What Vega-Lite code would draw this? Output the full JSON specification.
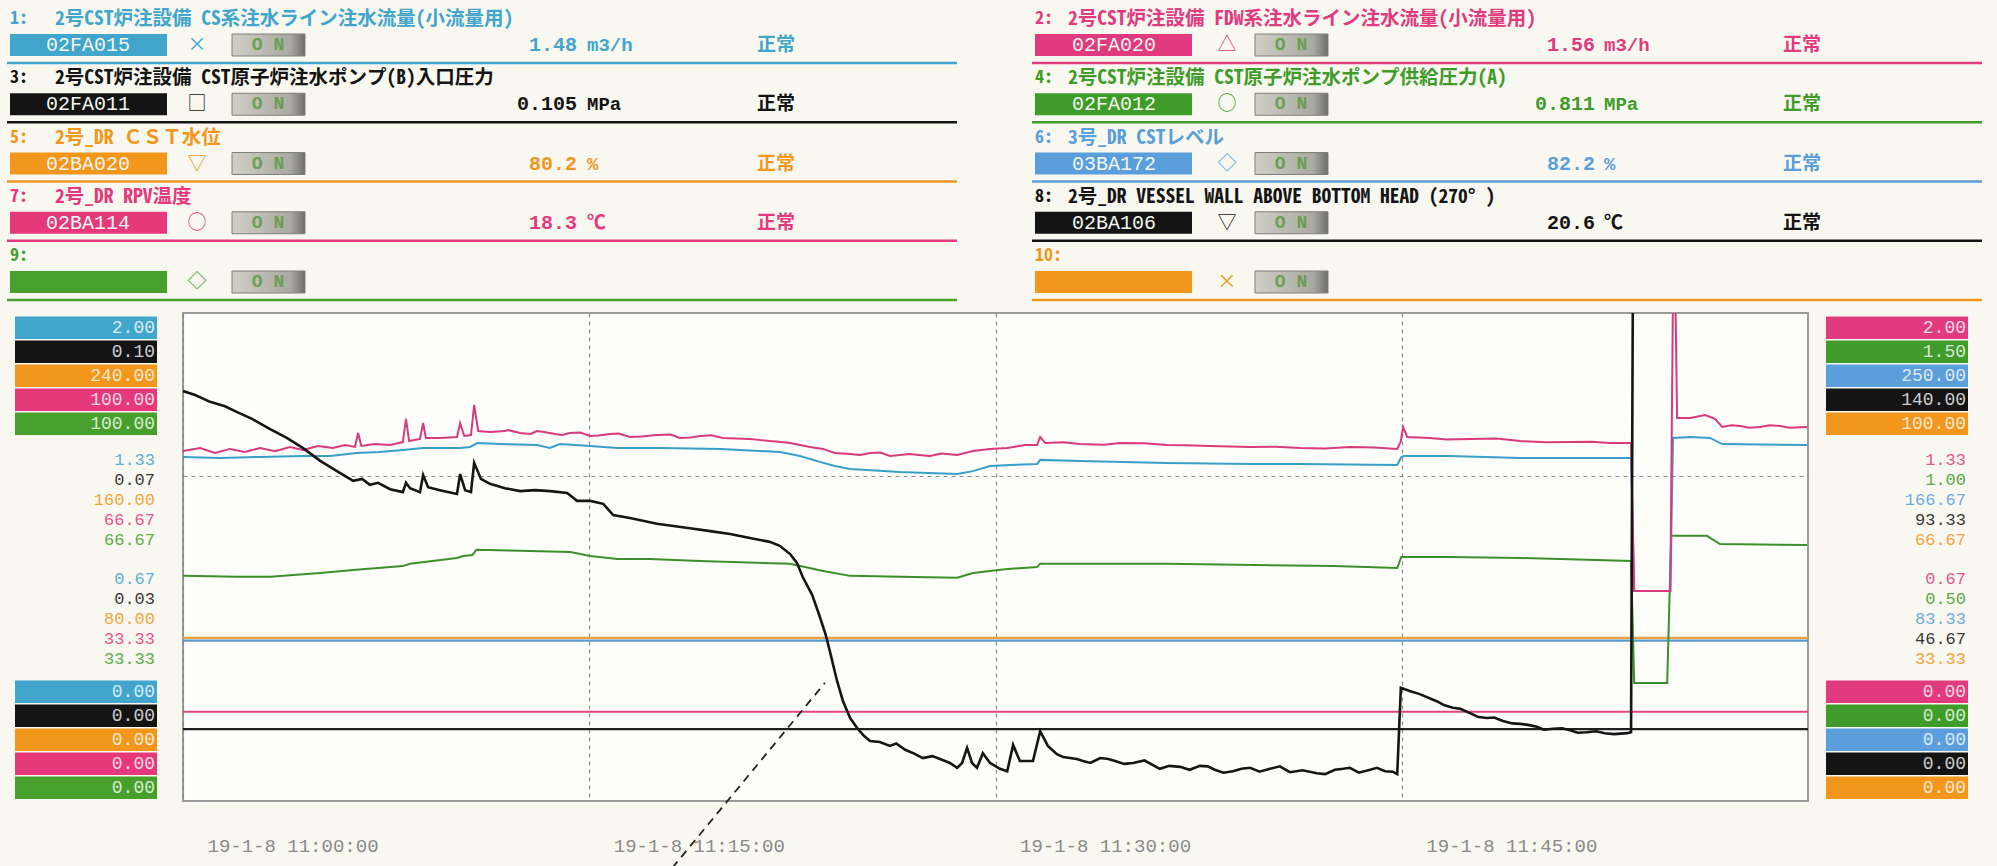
{
"$schema": "https://vega.github.io/schema/vega-lite/v6.json",
"width": 1625,
"height": 488,
"autosize": {"type": "none"},
"padding": {"left": 183, "top": 313, "right": 189, "bottom": 65},
"background": "#f8f8f0",
"config": {
  "view": {"stroke": "#9a9a9a", "strokeWidth": 2, "fill": "#fdfdfa"},
  "text": {"font": "Liberation Mono, DejaVu Sans Mono, Noto Sans CJK JP, monospace"}
},
"datasets": {
  "trend": [
    {"no":3,"t":"2019-01-08T11:00:00","v":0.0840},{"no":3,"t":"2019-01-08T11:00:27","v":0.0832},{"no":3,"t":"2019-01-08T11:01:00","v":0.0818},{"no":3,"t":"2019-01-08T11:01:33","v":0.0809},{"no":3,"t":"2019-01-08T11:02:00","v":0.0797},{"no":3,"t":"2019-01-08T11:02:33","v":0.0783},{"no":3,"t":"2019-01-08T11:03:13","v":0.0762},{"no":3,"t":"2019-01-08T11:03:50","v":0.0744},{"no":3,"t":"2019-01-08T11:04:26","v":0.0723},{"no":3,"t":"2019-01-08T11:05:04","v":0.0697},{"no":3,"t":"2019-01-08T11:05:41","v":0.0676},{"no":3,"t":"2019-01-08T11:06:17","v":0.0656},{"no":3,"t":"2019-01-08T11:06:37","v":0.0660},{"no":3,"t":"2019-01-08T11:06:54","v":0.0648},{"no":3,"t":"2019-01-08T11:07:12","v":0.0652},{"no":3,"t":"2019-01-08T11:07:39","v":0.0639},{"no":3,"t":"2019-01-08T11:08:07","v":0.0633},{"no":3,"t":"2019-01-08T11:08:14","v":0.0652},{"no":3,"t":"2019-01-08T11:08:23","v":0.0641},{"no":3,"t":"2019-01-08T11:08:45","v":0.0633},{"no":3,"t":"2019-01-08T11:08:52","v":0.0668},{"no":3,"t":"2019-01-08T11:09:03","v":0.0643},{"no":3,"t":"2019-01-08T11:09:29","v":0.0637},{"no":3,"t":"2019-01-08T11:10:07","v":0.0629},{"no":3,"t":"2019-01-08T11:10:14","v":0.0670},{"no":3,"t":"2019-01-08T11:10:25","v":0.0637},{"no":3,"t":"2019-01-08T11:10:38","v":0.0633},{"no":3,"t":"2019-01-08T11:10:45","v":0.0693},{"no":3,"t":"2019-01-08T11:11:00","v":0.0660},{"no":3,"t":"2019-01-08T11:11:20","v":0.0650},{"no":3,"t":"2019-01-08T11:11:53","v":0.0641},{"no":3,"t":"2019-01-08T11:12:27","v":0.0635},{"no":3,"t":"2019-01-08T11:13:00","v":0.0637},{"no":3,"t":"2019-01-08T11:13:33","v":0.0635},{"no":3,"t":"2019-01-08T11:14:11","v":0.0631},{"no":3,"t":"2019-01-08T11:14:33","v":0.0615},{"no":3,"t":"2019-01-08T11:15:02","v":0.0615},{"no":3,"t":"2019-01-08T11:15:31","v":0.0609},{"no":3,"t":"2019-01-08T11:15:53","v":0.0586},{"no":3,"t":"2019-01-08T11:16:30","v":0.0580},{"no":3,"t":"2019-01-08T11:17:30","v":0.0568},{"no":3,"t":"2019-01-08T11:18:43","v":0.0559},{"no":3,"t":"2019-01-08T11:19:28","v":0.0553},{"no":3,"t":"2019-01-08T11:20:12","v":0.0547},{"no":3,"t":"2019-01-08T11:20:56","v":0.0539},{"no":3,"t":"2019-01-08T11:21:40","v":0.0531},{"no":3,"t":"2019-01-08T11:22:02","v":0.0523},{"no":3,"t":"2019-01-08T11:22:25","v":0.0506},{"no":3,"t":"2019-01-08T11:22:40","v":0.0488},{"no":3,"t":"2019-01-08T11:22:53","v":0.0459},{"no":3,"t":"2019-01-08T11:23:14","v":0.0422},{"no":3,"t":"2019-01-08T11:23:31","v":0.0377},{"no":3,"t":"2019-01-08T11:23:44","v":0.0340},{"no":3,"t":"2019-01-08T11:23:53","v":0.0307},{"no":3,"t":"2019-01-08T11:24:09","v":0.0246},{"no":3,"t":"2019-01-08T11:24:22","v":0.0205},{"no":3,"t":"2019-01-08T11:24:38","v":0.0170},{"no":3,"t":"2019-01-08T11:24:53","v":0.0150},{"no":3,"t":"2019-01-08T11:25:09","v":0.0133},{"no":3,"t":"2019-01-08T11:25:22","v":0.0123},{"no":3,"t":"2019-01-08T11:25:44","v":0.0121},{"no":3,"t":"2019-01-08T11:26:06","v":0.0113},{"no":3,"t":"2019-01-08T11:26:20","v":0.0118},{"no":3,"t":"2019-01-08T11:26:40","v":0.0105},{"no":3,"t":"2019-01-08T11:27:00","v":0.0097},{"no":3,"t":"2019-01-08T11:27:19","v":0.0088},{"no":3,"t":"2019-01-08T11:27:40","v":0.0092},{"no":3,"t":"2019-01-08T11:27:57","v":0.0086},{"no":3,"t":"2019-01-08T11:28:19","v":0.0078},{"no":3,"t":"2019-01-08T11:28:35","v":0.0068},{"no":3,"t":"2019-01-08T11:28:46","v":0.0078},{"no":3,"t":"2019-01-08T11:28:57","v":0.0109},{"no":3,"t":"2019-01-08T11:29:08","v":0.0078},{"no":3,"t":"2019-01-08T11:29:19","v":0.0068},{"no":3,"t":"2019-01-08T11:29:32","v":0.0098},{"no":3,"t":"2019-01-08T11:29:48","v":0.0078},{"no":3,"t":"2019-01-08T11:30:10","v":0.0066},{"no":3,"t":"2019-01-08T11:30:26","v":0.0061},{"no":3,"t":"2019-01-08T11:30:39","v":0.0115},{"no":3,"t":"2019-01-08T11:30:54","v":0.0082},{"no":3,"t":"2019-01-08T11:31:23","v":0.0082},{"no":3,"t":"2019-01-08T11:31:39","v":0.0143},{"no":3,"t":"2019-01-08T11:31:56","v":0.0113},{"no":3,"t":"2019-01-08T11:32:16","v":0.0096},{"no":3,"t":"2019-01-08T11:32:30","v":0.0090},{"no":3,"t":"2019-01-08T11:32:45","v":0.0088},{"no":3,"t":"2019-01-08T11:33:00","v":0.0086},{"no":3,"t":"2019-01-08T11:33:14","v":0.0082},{"no":3,"t":"2019-01-08T11:33:30","v":0.0078},{"no":3,"t":"2019-01-08T11:33:52","v":0.0088},{"no":3,"t":"2019-01-08T11:34:10","v":0.0086},{"no":3,"t":"2019-01-08T11:34:25","v":0.0082},{"no":3,"t":"2019-01-08T11:34:45","v":0.0076},{"no":3,"t":"2019-01-08T11:35:05","v":0.0078},{"no":3,"t":"2019-01-08T11:35:30","v":0.0083},{"no":3,"t":"2019-01-08T11:36:04","v":0.0066},{"no":3,"t":"2019-01-08T11:36:25","v":0.0072},{"no":3,"t":"2019-01-08T11:36:49","v":0.0070},{"no":3,"t":"2019-01-08T11:37:10","v":0.0064},{"no":3,"t":"2019-01-08T11:37:33","v":0.0072},{"no":3,"t":"2019-01-08T11:37:50","v":0.0071},{"no":3,"t":"2019-01-08T11:38:06","v":0.0064},{"no":3,"t":"2019-01-08T11:38:25","v":0.0058},{"no":3,"t":"2019-01-08T11:38:46","v":0.0061},{"no":3,"t":"2019-01-08T11:39:05","v":0.0066},{"no":3,"t":"2019-01-08T11:39:24","v":0.0068},{"no":3,"t":"2019-01-08T11:39:45","v":0.0060},{"no":3,"t":"2019-01-08T11:40:08","v":0.0066},{"no":3,"t":"2019-01-08T11:40:30","v":0.0071},{"no":3,"t":"2019-01-08T11:40:52","v":0.0059},{"no":3,"t":"2019-01-08T11:41:20","v":0.0063},{"no":3,"t":"2019-01-08T11:41:52","v":0.0057},{"no":3,"t":"2019-01-08T11:42:10","v":0.0055},{"no":3,"t":"2019-01-08T11:42:32","v":0.0064},{"no":3,"t":"2019-01-08T11:42:50","v":0.0066},{"no":3,"t":"2019-01-08T11:43:05","v":0.0068},{"no":3,"t":"2019-01-08T11:43:25","v":0.0058},{"no":3,"t":"2019-01-08T11:43:50","v":0.0064},{"no":3,"t":"2019-01-08T11:44:05","v":0.0068},{"no":3,"t":"2019-01-08T11:44:23","v":0.0061},{"no":3,"t":"2019-01-08T11:44:40","v":0.0060},{"no":3,"t":"2019-01-08T11:44:50","v":0.0055},{"no":3,"t":"2019-01-08T11:44:58","v":0.0232},{"no":3,"t":"2019-01-08T11:45:19","v":0.0225},{"no":3,"t":"2019-01-08T11:45:40","v":0.0219},{"no":3,"t":"2019-01-08T11:46:16","v":0.0205},{"no":3,"t":"2019-01-08T11:46:35","v":0.0196},{"no":3,"t":"2019-01-08T11:46:53","v":0.0191},{"no":3,"t":"2019-01-08T11:47:10","v":0.0189},{"no":3,"t":"2019-01-08T11:47:31","v":0.0180},{"no":3,"t":"2019-01-08T11:47:50","v":0.0172},{"no":3,"t":"2019-01-08T11:48:09","v":0.0170},{"no":3,"t":"2019-01-08T11:48:25","v":0.0171},{"no":3,"t":"2019-01-08T11:48:44","v":0.0164},{"no":3,"t":"2019-01-08T11:49:05","v":0.0159},{"no":3,"t":"2019-01-08T11:49:22","v":0.0158},{"no":3,"t":"2019-01-08T11:49:40","v":0.0156},{"no":3,"t":"2019-01-08T11:49:59","v":0.0152},{"no":3,"t":"2019-01-08T11:50:15","v":0.0146},{"no":3,"t":"2019-01-08T11:50:35","v":0.0148},{"no":3,"t":"2019-01-08T11:50:55","v":0.0149},{"no":3,"t":"2019-01-08T11:51:13","v":0.0145},{"no":3,"t":"2019-01-08T11:51:30","v":0.0140},{"no":3,"t":"2019-01-08T11:51:50","v":0.0141},{"no":3,"t":"2019-01-08T11:52:10","v":0.0143},{"no":3,"t":"2019-01-08T11:52:30","v":0.0139},{"no":3,"t":"2019-01-08T11:52:50","v":0.0137},{"no":3,"t":"2019-01-08T11:53:19","v":0.0139},{"no":3,"t":"2019-01-08T11:53:28","v":0.0141},{"no":3,"t":"2019-01-08T11:53:32","v":0.1050},{"no":3,"t":"2019-01-08T11:59:58","v":0.1050},

    {"no":2,"t":"2019-01-08T11:00:00","v":1.434},{"no":2,"t":"2019-01-08T11:00:38","v":1.447},{"no":2,"t":"2019-01-08T11:01:11","v":1.426},{"no":2,"t":"2019-01-08T11:01:44","v":1.443},{"no":2,"t":"2019-01-08T11:02:17","v":1.430},{"no":2,"t":"2019-01-08T11:02:51","v":1.447},{"no":2,"t":"2019-01-08T11:03:24","v":1.434},{"no":2,"t":"2019-01-08T11:03:57","v":1.451},{"no":2,"t":"2019-01-08T11:04:26","v":1.439},{"no":2,"t":"2019-01-08T11:04:59","v":1.455},{"no":2,"t":"2019-01-08T11:05:32","v":1.447},{"no":2,"t":"2019-01-08T11:05:59","v":1.459},{"no":2,"t":"2019-01-08T11:06:21","v":1.451},{"no":2,"t":"2019-01-08T11:06:28","v":1.508},{"no":2,"t":"2019-01-08T11:06:35","v":1.455},{"no":2,"t":"2019-01-08T11:07:05","v":1.463},{"no":2,"t":"2019-01-08T11:07:39","v":1.459},{"no":2,"t":"2019-01-08T11:08:07","v":1.471},{"no":2,"t":"2019-01-08T11:08:14","v":1.566},{"no":2,"t":"2019-01-08T11:08:21","v":1.475},{"no":2,"t":"2019-01-08T11:08:45","v":1.484},{"no":2,"t":"2019-01-08T11:08:52","v":1.549},{"no":2,"t":"2019-01-08T11:08:58","v":1.488},{"no":2,"t":"2019-01-08T11:09:29","v":1.488},{"no":2,"t":"2019-01-08T11:10:07","v":1.492},{"no":2,"t":"2019-01-08T11:10:14","v":1.549},{"no":2,"t":"2019-01-08T11:10:23","v":1.496},{"no":2,"t":"2019-01-08T11:10:38","v":1.500},{"no":2,"t":"2019-01-08T11:10:45","v":1.623},{"no":2,"t":"2019-01-08T11:10:54","v":1.516},{"no":2,"t":"2019-01-08T11:11:20","v":1.512},{"no":2,"t":"2019-01-08T11:11:53","v":1.516},{"no":2,"t":"2019-01-08T11:12:00","v":1.520},{"no":2,"t":"2019-01-08T11:12:27","v":1.508},{"no":2,"t":"2019-01-08T11:12:50","v":1.504},{"no":2,"t":"2019-01-08T11:13:04","v":1.516},{"no":2,"t":"2019-01-08T11:13:20","v":1.512},{"no":2,"t":"2019-01-08T11:13:44","v":1.504},{"no":2,"t":"2019-01-08T11:14:00","v":1.500},{"no":2,"t":"2019-01-08T11:14:17","v":1.508},{"no":2,"t":"2019-01-08T11:14:40","v":1.510},{"no":2,"t":"2019-01-08T11:15:02","v":1.496},{"no":2,"t":"2019-01-08T11:15:20","v":1.498},{"no":2,"t":"2019-01-08T11:15:46","v":1.504},{"no":2,"t":"2019-01-08T11:16:05","v":1.506},{"no":2,"t":"2019-01-08T11:16:30","v":1.492},{"no":2,"t":"2019-01-08T11:16:55","v":1.494},{"no":2,"t":"2019-01-08T11:17:30","v":1.500},{"no":2,"t":"2019-01-08T11:18:00","v":1.502},{"no":2,"t":"2019-01-08T11:18:21","v":1.488},{"no":2,"t":"2019-01-08T11:18:45","v":1.490},{"no":2,"t":"2019-01-08T11:19:05","v":1.496},{"no":2,"t":"2019-01-08T11:19:30","v":1.499},{"no":2,"t":"2019-01-08T11:19:56","v":1.488},{"no":2,"t":"2019-01-08T11:20:25","v":1.486},{"no":2,"t":"2019-01-08T11:20:56","v":1.484},{"no":2,"t":"2019-01-08T11:21:15","v":1.480},{"no":2,"t":"2019-01-08T11:21:40","v":1.475},{"no":2,"t":"2019-01-08T11:22:00","v":1.472},{"no":2,"t":"2019-01-08T11:22:25","v":1.467},{"no":2,"t":"2019-01-08T11:22:50","v":1.458},{"no":2,"t":"2019-01-08T11:23:09","v":1.451},{"no":2,"t":"2019-01-08T11:23:38","v":1.443},{"no":2,"t":"2019-01-08T11:24:04","v":1.426},{"no":2,"t":"2019-01-08T11:24:38","v":1.422},{"no":2,"t":"2019-01-08T11:25:00","v":1.418},{"no":2,"t":"2019-01-08T11:25:22","v":1.426},{"no":2,"t":"2019-01-08T11:25:45","v":1.428},{"no":2,"t":"2019-01-08T11:26:06","v":1.414},{"no":2,"t":"2019-01-08T11:26:50","v":1.422},{"no":2,"t":"2019-01-08T11:27:10","v":1.418},{"no":2,"t":"2019-01-08T11:27:35","v":1.414},{"no":2,"t":"2019-01-08T11:28:00","v":1.424},{"no":2,"t":"2019-01-08T11:28:35","v":1.418},{"no":2,"t":"2019-01-08T11:29:10","v":1.434},{"no":2,"t":"2019-01-08T11:29:48","v":1.443},{"no":2,"t":"2019-01-08T11:30:26","v":1.447},{"no":2,"t":"2019-01-08T11:31:05","v":1.459},{"no":2,"t":"2019-01-08T11:31:32","v":1.459},{"no":2,"t":"2019-01-08T11:31:39","v":1.492},{"no":2,"t":"2019-01-08T11:31:50","v":1.467},{"no":2,"t":"2019-01-08T11:32:30","v":1.470},{"no":2,"t":"2019-01-08T11:33:07","v":1.463},{"no":2,"t":"2019-01-08T11:34:00","v":1.460},{"no":2,"t":"2019-01-08T11:34:36","v":1.467},{"no":2,"t":"2019-01-08T11:35:30","v":1.466},{"no":2,"t":"2019-01-08T11:36:20","v":1.459},{"no":2,"t":"2019-01-08T11:37:00","v":1.458},{"no":2,"t":"2019-01-08T11:37:55","v":1.455},{"no":2,"t":"2019-01-08T11:38:40","v":1.453},{"no":2,"t":"2019-01-08T11:39:24","v":1.451},{"no":2,"t":"2019-01-08T11:40:20","v":1.452},{"no":2,"t":"2019-01-08T11:41:15","v":1.447},{"no":2,"t":"2019-01-08T11:42:10","v":1.445},{"no":2,"t":"2019-01-08T11:43:05","v":1.451},{"no":2,"t":"2019-01-08T11:44:00","v":1.449},{"no":2,"t":"2019-01-08T11:44:50","v":1.443},{"no":2,"t":"2019-01-08T11:44:58","v":1.475},{"no":2,"t":"2019-01-08T11:45:03","v":1.533},{"no":2,"t":"2019-01-08T11:45:12","v":1.492},{"no":2,"t":"2019-01-08T11:46:02","v":1.488},{"no":2,"t":"2019-01-08T11:46:40","v":1.482},{"no":2,"t":"2019-01-08T11:47:31","v":1.484},{"no":2,"t":"2019-01-08T11:48:30","v":1.486},{"no":2,"t":"2019-01-08T11:49:22","v":1.475},{"no":2,"t":"2019-01-08T11:50:20","v":1.470},{"no":2,"t":"2019-01-08T11:51:13","v":1.471},{"no":2,"t":"2019-01-08T11:52:00","v":1.472},{"no":2,"t":"2019-01-08T11:52:41","v":1.467},{"no":2,"t":"2019-01-08T11:53:28","v":1.467},{"no":2,"t":"2019-01-08T11:53:35","v":0.861},{"no":2,"t":"2019-01-08T11:54:55","v":0.861},{"no":2,"t":"2019-01-08T11:55:01","v":2.100},{"no":2,"t":"2019-01-08T11:55:06","v":2.100},{"no":2,"t":"2019-01-08T11:55:10","v":1.570},{"no":2,"t":"2019-01-08T11:55:39","v":1.570},{"no":2,"t":"2019-01-08T11:56:12","v":1.582},{"no":2,"t":"2019-01-08T11:56:34","v":1.566},{"no":2,"t":"2019-01-08T11:56:50","v":1.533},{"no":2,"t":"2019-01-08T11:57:10","v":1.540},{"no":2,"t":"2019-01-08T11:57:30","v":1.537},{"no":2,"t":"2019-01-08T11:57:50","v":1.530},{"no":2,"t":"2019-01-08T11:58:14","v":1.533},{"no":2,"t":"2019-01-08T11:58:35","v":1.540},{"no":2,"t":"2019-01-08T11:58:58","v":1.537},{"no":2,"t":"2019-01-08T11:59:20","v":1.530},{"no":2,"t":"2019-01-08T11:59:58","v":1.533},

    {"no":1,"t":"2019-01-08T11:00:00","v":1.410},{"no":1,"t":"2019-01-08T11:01:22","v":1.406},{"no":1,"t":"2019-01-08T11:02:51","v":1.410},{"no":1,"t":"2019-01-08T11:04:26","v":1.414},{"no":1,"t":"2019-01-08T11:05:26","v":1.414},{"no":1,"t":"2019-01-08T11:06:24","v":1.426},{"no":1,"t":"2019-01-08T11:07:15","v":1.430},{"no":1,"t":"2019-01-08T11:08:07","v":1.439},{"no":1,"t":"2019-01-08T11:08:52","v":1.447},{"no":1,"t":"2019-01-08T11:10:14","v":1.447},{"no":1,"t":"2019-01-08T11:10:36","v":1.451},{"no":1,"t":"2019-01-08T11:10:52","v":1.467},{"no":1,"t":"2019-01-08T11:11:41","v":1.463},{"no":1,"t":"2019-01-08T11:13:04","v":1.459},{"no":1,"t":"2019-01-08T11:13:33","v":1.447},{"no":1,"t":"2019-01-08T11:13:55","v":1.463},{"no":1,"t":"2019-01-08T11:15:02","v":1.455},{"no":1,"t":"2019-01-08T11:16:02","v":1.447},{"no":1,"t":"2019-01-08T11:17:39","v":1.447},{"no":1,"t":"2019-01-08T11:19:51","v":1.443},{"no":1,"t":"2019-01-08T11:22:03","v":1.430},{"no":1,"t":"2019-01-08T11:22:47","v":1.414},{"no":1,"t":"2019-01-08T11:23:25","v":1.393},{"no":1,"t":"2019-01-08T11:24:04","v":1.373},{"no":1,"t":"2019-01-08T11:24:38","v":1.361},{"no":1,"t":"2019-01-08T11:26:29","v":1.348},{"no":1,"t":"2019-01-08T11:28:35","v":1.340},{"no":1,"t":"2019-01-08T11:29:10","v":1.352},{"no":1,"t":"2019-01-08T11:29:48","v":1.373},{"no":1,"t":"2019-01-08T11:30:32","v":1.377},{"no":1,"t":"2019-01-08T11:31:32","v":1.381},{"no":1,"t":"2019-01-08T11:31:39","v":1.398},{"no":1,"t":"2019-01-08T11:33:07","v":1.393},{"no":1,"t":"2019-01-08T11:36:20","v":1.385},{"no":1,"t":"2019-01-08T11:39:24","v":1.381},{"no":1,"t":"2019-01-08T11:41:15","v":1.381},{"no":1,"t":"2019-01-08T11:44:50","v":1.377},{"no":1,"t":"2019-01-08T11:44:59","v":1.410},{"no":1,"t":"2019-01-08T11:45:05","v":1.414},{"no":1,"t":"2019-01-08T11:46:46","v":1.414},{"no":1,"t":"2019-01-08T11:49:22","v":1.406},{"no":1,"t":"2019-01-08T11:53:28","v":1.406},{"no":1,"t":"2019-01-08T11:53:35","v":0.861},{"no":1,"t":"2019-01-08T11:54:55","v":0.861},{"no":1,"t":"2019-01-08T11:55:01","v":1.488},{"no":1,"t":"2019-01-08T11:55:39","v":1.492},{"no":1,"t":"2019-01-08T11:56:23","v":1.488},{"no":1,"t":"2019-01-08T11:56:50","v":1.463},{"no":1,"t":"2019-01-08T11:59:58","v":1.459},

    {"no":4,"t":"2019-01-08T11:00:00","v":0.692},{"no":4,"t":"2019-01-08T11:02:00","v":0.689},{"no":4,"t":"2019-01-08T11:03:13","v":0.689},{"no":4,"t":"2019-01-08T11:05:04","v":0.701},{"no":4,"t":"2019-01-08T11:06:17","v":0.710},{"no":4,"t":"2019-01-08T11:08:07","v":0.722},{"no":4,"t":"2019-01-08T11:08:23","v":0.729},{"no":4,"t":"2019-01-08T11:10:07","v":0.747},{"no":4,"t":"2019-01-08T11:10:21","v":0.753},{"no":4,"t":"2019-01-08T11:10:41","v":0.756},{"no":4,"t":"2019-01-08T11:10:50","v":0.772},{"no":4,"t":"2019-01-08T11:12:27","v":0.769},{"no":4,"t":"2019-01-08T11:14:18","v":0.765},{"no":4,"t":"2019-01-08T11:15:02","v":0.753},{"no":4,"t":"2019-01-08T11:16:02","v":0.744},{"no":4,"t":"2019-01-08T11:17:14","v":0.744},{"no":4,"t":"2019-01-08T11:19:05","v":0.738},{"no":4,"t":"2019-01-08T11:22:25","v":0.729},{"no":4,"t":"2019-01-08T11:23:38","v":0.707},{"no":4,"t":"2019-01-08T11:24:38","v":0.692},{"no":4,"t":"2019-01-08T11:26:29","v":0.689},{"no":4,"t":"2019-01-08T11:28:35","v":0.686},{"no":4,"t":"2019-01-08T11:29:10","v":0.701},{"no":4,"t":"2019-01-08T11:30:26","v":0.713},{"no":4,"t":"2019-01-08T11:31:32","v":0.719},{"no":4,"t":"2019-01-08T11:31:39","v":0.729},{"no":4,"t":"2019-01-08T11:36:20","v":0.729},{"no":4,"t":"2019-01-08T11:42:30","v":0.722},{"no":4,"t":"2019-01-08T11:44:50","v":0.716},{"no":4,"t":"2019-01-08T11:44:59","v":0.750},{"no":4,"t":"2019-01-08T11:46:46","v":0.750},{"no":4,"t":"2019-01-08T11:49:22","v":0.747},{"no":4,"t":"2019-01-08T11:53:28","v":0.738},{"no":4,"t":"2019-01-08T11:53:35","v":0.363},{"no":4,"t":"2019-01-08T11:54:48","v":0.363},{"no":4,"t":"2019-01-08T11:54:57","v":0.815},{"no":4,"t":"2019-01-08T11:56:16","v":0.815},{"no":4,"t":"2019-01-08T11:56:45","v":0.790},{"no":4,"t":"2019-01-08T11:59:58","v":0.787},

    {"no":5,"t":"2019-01-08T11:00:00","v":80.2},{"no":5,"t":"2019-01-08T12:00:00","v":80.2},
    {"no":6,"t":"2019-01-08T11:00:00","v":82.2},{"no":6,"t":"2019-01-08T12:00:00","v":82.2},
    {"no":7,"t":"2019-01-08T11:00:00","v":18.3},{"no":7,"t":"2019-01-08T12:00:00","v":18.3},
    {"no":8,"t":"2019-01-08T11:00:00","v":20.6},{"no":8,"t":"2019-01-08T12:00:00","v":20.6}
  ],
  "pen": [
    {"t":"2019-01-08T11:23:42","v":0.0242},
    {"t":"2019-01-08T11:18:04","v":-0.0137}
  ],
  "header": [
    {"no":1,"col":1,"row":1,"num":"1:","title":"2号CST炉注設備 CS系注水ライン注水流量(小流量用)","tag":"02FA015","sym":"×","value":"1.48","unit":"m3/h","status":"正常"},
    {"no":3,"col":1,"row":2,"num":"3:","title":"2号CST炉注設備 CST原子炉注水ポンプ(B)入口圧力","tag":"02FA011","sym":"□","value":"0.105","unit":"MPa","status":"正常"},
    {"no":5,"col":1,"row":3,"num":"5:","title":"2号_DR ＣＳＴ水位","tag":"02BA020","sym":"▽","value":"80.2","unit":"%","status":"正常"},
    {"no":7,"col":1,"row":4,"num":"7:","title":"2号_DR RPV温度","tag":"02BA114","sym":"○","value":"18.3","unit":"℃","status":"正常"},
    {"no":9,"col":1,"row":5,"num":"9:","title":"","tag":"","sym":"◇","value":"","unit":"","status":""},
    {"no":2,"col":2,"row":1,"num":"2:","title":"2号CST炉注設備 FDW系注水ライン注水流量(小流量用)","tag":"02FA020","sym":"△","value":"1.56","unit":"m3/h","status":"正常"},
    {"no":4,"col":2,"row":2,"num":"4:","title":"2号CST炉注設備 CST原子炉注水ポンプ供給圧力(A)","tag":"02FA012","sym":"○","value":"0.811","unit":"MPa","status":"正常"},
    {"no":6,"col":2,"row":3,"num":"6:","title":"3号_DR CSTレベル","tag":"03BA172","sym":"◇","value":"82.2","unit":"%","status":"正常"},
    {"no":8,"col":2,"row":4,"num":"8:","title":"2号_DR VESSEL WALL ABOVE BOTTOM HEAD (270° )","tag":"02BA106","sym":"▽","value":"20.6","unit":"℃","status":"正常"},
    {"no":10,"col":2,"row":5,"num":"10:","title":"","tag":"","sym":"×","value":"","unit":"","status":""}
  ],
  "scales": [
    {"no":1,"col":1,"slot":1,"max":2,"hi":1.33333,"lo":0.66667,"min":0},
    {"no":3,"col":1,"slot":2,"max":0.1,"hi":0.06667,"lo":0.03333,"min":0},
    {"no":5,"col":1,"slot":3,"max":240,"hi":160,"lo":80,"min":0},
    {"no":7,"col":1,"slot":4,"max":100,"hi":66.6667,"lo":33.3333,"min":0},
    {"no":9,"col":1,"slot":5,"max":100,"hi":66.6667,"lo":33.3333,"min":0},
    {"no":2,"col":2,"slot":1,"max":2,"hi":1.33333,"lo":0.66667,"min":0},
    {"no":4,"col":2,"slot":2,"max":1.5,"hi":1,"lo":0.5,"min":0},
    {"no":6,"col":2,"slot":3,"max":250,"hi":166.6667,"lo":83.3333,"min":0},
    {"no":8,"col":2,"slot":4,"max":140,"hi":93.3333,"lo":46.6667,"min":0},
    {"no":10,"col":2,"slot":5,"max":100,"hi":66.6667,"lo":33.3333,"min":0}
  ]
},
"layer": [
  {
    "data": {"name": "trend"},
    "encoding": {
      "x": {"field": "t", "type": "temporal",
        "scale": {"domain": [{"year":2019,"month":1,"date":8,"hours":11,"minutes":0},{"year":2019,"month":1,"date":8,"hours":12,"minutes":0}]},
        "axis": {
          "values": [{"year":2019,"month":1,"date":8,"hours":11,"minutes":0},{"year":2019,"month":1,"date":8,"hours":11,"minutes":15},{"year":2019,"month":1,"date":8,"hours":11,"minutes":30},{"year":2019,"month":1,"date":8,"hours":11,"minutes":45}],
          "format": "%y-%-m-%-d %H:%M:%S",
          "labelAlign": "left", "labelBaseline": "middle", "labelOffset": 24, "labelPadding": 44,
          "labelFont": "Liberation Mono, DejaVu Sans Mono, monospace", "labelFontSize": 19, "labelColor": "#8a8a8a",
          "labelFlush": false, "labelOverlap": false,
          "ticks": false, "domain": false, "title": null,
          "grid": true, "gridDash": [4, 4], "gridColor": "#8c8c8c", "gridWidth": 1.2
        }
      }
    },
    "layer": [
      {"transform": [{"filter": "datum.no == 5"}], "mark": {"type": "line", "color": "#eea23a", "strokeWidth": 2.2, "clip": true},
       "encoding": {"y": {"field": "v", "type": "quantitative", "scale": {"domain": [0, 240], "nice": false}, "axis": null}}},
      {"transform": [{"filter": "datum.no == 6"}], "mark": {"type": "line", "color": "#5d98cc", "strokeWidth": 2.2, "clip": true},
       "encoding": {"y": {"field": "v", "type": "quantitative", "scale": {"domain": [0, 250], "nice": false}, "axis": null}}},
      {"transform": [{"filter": "datum.no == 7"}], "mark": {"type": "line", "color": "#e0467f", "strokeWidth": 2, "clip": true},
       "encoding": {"y": {"field": "v", "type": "quantitative", "scale": {"domain": [0, 100], "nice": false}, "axis": null}}},
      {"transform": [{"filter": "datum.no == 8"}], "mark": {"type": "line", "color": "#202020", "strokeWidth": 2.2, "clip": true},
       "encoding": {"y": {"field": "v", "type": "quantitative", "scale": {"domain": [0, 140], "nice": false}, "axis": null}}},
      {"transform": [{"filter": "datum.no == 4"}], "mark": {"type": "line", "color": "#3c8f2a", "strokeWidth": 2, "clip": true},
       "encoding": {"y": {"field": "v", "type": "quantitative", "scale": {"domain": [0, 1.5], "nice": false}, "axis": null}}},
      {"transform": [{"filter": "datum.no == 1"}], "mark": {"type": "line", "color": "#3a9fc8", "strokeWidth": 2, "clip": true},
       "encoding": {"y": {"field": "v", "type": "quantitative", "scale": {"domain": [0, 2], "nice": false},
         "axis": {"values": [0.66667, 1.33333], "grid": true, "gridDash": [4, 4], "gridColor": "#8c8c8c", "gridWidth": 1.2, "labels": false, "ticks": false, "domain": false, "title": null}}}},
      {"transform": [{"filter": "datum.no == 2"}], "mark": {"type": "line", "color": "#d83a7c", "strokeWidth": 2, "clip": true},
       "encoding": {"y": {"field": "v", "type": "quantitative", "scale": {"domain": [0, 2], "nice": false}, "axis": null}}},
      {"transform": [{"filter": "datum.no == 3"}], "mark": {"type": "line", "color": "#151515", "strokeWidth": 2.6, "clip": true},
       "encoding": {"y": {"field": "v", "type": "quantitative", "scale": {"domain": [0, 0.1], "nice": false}, "axis": null}}},
      {"data": {"name": "pen"}, "mark": {"type": "line", "color": "#222222", "strokeWidth": 1.8, "strokeDash": [8, 6], "clip": false},
       "encoding": {"y": {"field": "v", "type": "quantitative", "scale": {"domain": [0, 0.1], "nice": false, "zero": false}, "axis": null}}}
    ],
    "resolve": {"scale": {"y": "independent"}}
  },
  {
    "data": {"name": "header"},
    "encoding": {
      "y": {"field": "row", "type": "quantitative", "scale": {"domain": [1, 5], "range": [-268, -31], "nice": false, "zero": false}, "axis": null}
    },
    "layer": [
      {"mark": {"type": "rule", "strokeWidth": 2.6, "x2Offset": 950, "yOffset": 18},
       "encoding": {
         "x": {"field": "col", "type": "quantitative", "scale": {"domain": [1, 2], "range": [-176, 849], "nice": false, "zero": false}, "axis": null},
         "x2": {"field": "col"},
         "color": {"field": "no", "type": "nominal", "scale": {"domain": [1,2,3,4,5,6,7,8,9,10], "range": ["#41a5cc","#e23a7f","#141414","#3f9b2a","#f2961c","#5a9edb","#e5397c","#141414","#46a02b","#f2961c"]}, "legend": null}
       }},
      {"mark": {"type": "rect", "x2Offset": 157, "yOffset": -11, "y2Offset": 11},
       "encoding": {
         "x": {"field": "col", "type": "quantitative", "scale": {"domain": [1, 2], "range": [-173, 852], "nice": false, "zero": false}, "axis": null},
         "x2": {"field": "col"},
         "y2": {"field": "row"},
         "color": {"field": "no", "type": "nominal", "scale": {"domain": [1,2,3,4,5,6,7,8,9,10], "range": ["#41a5cc","#e23a7f","#141414","#3f9b2a","#f2961c","#5a9edb","#e5397c","#141414","#46a02b","#f2961c"]}, "legend": null}
       }},
      {"mark": {"type": "text", "fontSize": 20, "fill": "#f2f6ee", "align": "center", "baseline": "middle"},
       "encoding": {
         "x": {"field": "col", "type": "quantitative", "scale": {"domain": [1, 2], "range": [-95, 931], "nice": false, "zero": false}, "axis": null},
         "text": {"field": "tag"}
       }},
      {"mark": {"type": "rect", "x2Offset": 73, "yOffset": -11, "y2Offset": 11, "stroke": "#80807a", "strokeWidth": 1,
         "fill": {"gradient": "linear", "x1": 0, "y1": 0, "x2": 1, "y2": 0, "stops": [{"offset": 0, "color": "#cfcfc6"}, {"offset": 0.8, "color": "#a9a9a1"}, {"offset": 1, "color": "#6f6f69"}]}},
       "encoding": {
         "x": {"field": "col", "type": "quantitative", "scale": {"domain": [1, 2], "range": [49, 1072], "nice": false, "zero": false}, "axis": null},
         "x2": {"field": "col"},
         "y2": {"field": "row"}
       }},
      {"mark": {"type": "text", "text": "O N", "fontSize": 18, "fontWeight": "bold", "fill": "#5f9a45", "opacity": 0.85, "align": "center", "baseline": "middle"},
       "encoding": {
         "x": {"field": "col", "type": "quantitative", "scale": {"domain": [1, 2], "range": [85, 1108], "nice": false, "zero": false}, "axis": null}
       }},
      {"mark": {"type": "text", "font": "Noto Sans CJK JP", "fontSize": 19, "align": "center", "baseline": "middle"},
       "encoding": {
         "x": {"field": "col", "type": "quantitative", "scale": {"domain": [1, 2], "range": [14, 1044], "nice": false, "zero": false}, "axis": null},
         "text": {"field": "sym"},
         "color": {"field": "no", "type": "nominal", "scale": {"domain": [1,2,3,4,5,6,7,8,9,10], "range": ["#41a5cc","#e23a7f","#141414","#3f9b2a","#f2961c","#5a9edb","#e5397c","#141414","#46a02b","#f2961c"]}, "legend": null}
       }},
      {"mark": {"type": "text", "font": "Noto Sans Mono CJK JP, Liberation Mono, Noto Sans CJK JP, monospace", "fontSize": 18, "fontWeight": "bold", "align": "left", "baseline": "middle", "dy": -26},
       "encoding": {
         "x": {"field": "col", "type": "quantitative", "scale": {"domain": [1, 2], "range": [-173, 852], "nice": false, "zero": false}, "axis": null},
         "text": {"field": "num"},
         "color": {"field": "no", "type": "nominal", "scale": {"domain": [1,2,3,4,5,6,7,8,9,10], "range": ["#41a5cc","#e23a7f","#141414","#3f9b2a","#f2961c","#5a9edb","#e5397c","#141414","#46a02b","#f2961c"]}, "legend": null}
       }},
      {"mark": {"type": "text", "font": "Noto Sans Mono CJK JP, Liberation Mono, Noto Sans CJK JP, monospace", "fontSize": 19.5, "fontWeight": "bold", "align": "left", "baseline": "middle", "dy": -26},
       "encoding": {
         "x": {"field": "col", "type": "quantitative", "scale": {"domain": [1, 2], "range": [-128, 885], "nice": false, "zero": false}, "axis": null},
         "text": {"field": "title"},
         "color": {"field": "no", "type": "nominal", "scale": {"domain": [1,2,3,4,5,6,7,8,9,10], "range": ["#41a5cc","#e23a7f","#141414","#3f9b2a","#f2961c","#5a9edb","#e5397c","#141414","#46a02b","#f2961c"]}, "legend": null}
       }},
      {"mark": {"type": "text", "fontSize": 20, "fontWeight": "bold", "align": "right", "baseline": "middle"},
       "encoding": {
         "x": {"field": "col", "type": "quantitative", "scale": {"domain": [1, 2], "range": [394, 1412], "nice": false, "zero": false}, "axis": null},
         "text": {"field": "value"},
         "color": {"field": "no", "type": "nominal", "scale": {"domain": [1,2,3,4,5,6,7,8,9,10], "range": ["#41a5cc","#e23a7f","#141414","#3f9b2a","#f2961c","#5a9edb","#e5397c","#141414","#46a02b","#f2961c"]}, "legend": null}
       }},
      {"mark": {"type": "text", "fontSize": 19, "fontWeight": "bold", "align": "left", "baseline": "middle"},
       "encoding": {
         "x": {"field": "col", "type": "quantitative", "scale": {"domain": [1, 2], "range": [404, 1421], "nice": false, "zero": false}, "axis": null},
         "text": {"field": "unit"},
         "color": {"field": "no", "type": "nominal", "scale": {"domain": [1,2,3,4,5,6,7,8,9,10], "range": ["#41a5cc","#e23a7f","#141414","#3f9b2a","#f2961c","#5a9edb","#e5397c","#141414","#46a02b","#f2961c"]}, "legend": null}
       }},
      {"mark": {"type": "text", "fontSize": 19, "fontWeight": "bold", "align": "left", "baseline": "middle"},
       "encoding": {
         "x": {"field": "col", "type": "quantitative", "scale": {"domain": [1, 2], "range": [574, 1600], "nice": false, "zero": false}, "axis": null},
         "text": {"field": "status"},
         "color": {"field": "no", "type": "nominal", "scale": {"domain": [1,2,3,4,5,6,7,8,9,10], "range": ["#41a5cc","#e23a7f","#141414","#3f9b2a","#f2961c","#5a9edb","#e5397c","#141414","#46a02b","#f2961c"]}, "legend": null}
       }}
    ],
    "resolve": {"scale": {"x": "independent"}}
  },
  {
    "data": {"name": "scales"},
    "layer": [
      {"mark": {"type": "rect", "x2Offset": 142, "yOffset": -11.5, "y2Offset": 11},
       "encoding": {
         "x": {"field": "col", "type": "quantitative", "scale": {"domain": [1, 2], "range": [-168, 1643], "nice": false, "zero": false}, "axis": null},
         "x2": {"field": "col"},
         "y": {"field": "slot", "type": "quantitative", "scale": {"domain": [1, 5], "range": [15, 111], "nice": false, "zero": false}, "axis": null},
         "y2": {"field": "slot"},
         "color": {"field": "no", "type": "nominal", "scale": {"domain": [1,2,3,4,5,6,7,8,9,10], "range": ["#41a5cc","#e23a7f","#141414","#3f9b2a","#f2961c","#5a9edb","#e5397c","#141414","#46a02b","#f2961c"]}, "legend": null}
       }},
      {"mark": {"type": "text", "fontSize": 18, "fill": "#ffffff", "fillOpacity": 0.8, "align": "right", "baseline": "middle"},
       "encoding": {
         "x": {"field": "col", "type": "quantitative", "scale": {"domain": [1, 2], "range": [-28, 1783], "nice": false, "zero": false}, "axis": null},
         "y": {"field": "slot", "type": "quantitative", "scale": {"domain": [1, 5], "range": [15, 111], "nice": false, "zero": false}, "axis": null},
         "text": {"field": "max", "type": "quantitative", "format": ".2f"}
       }},
      {"mark": {"type": "text", "fontSize": 17, "opacity": 0.85, "align": "right", "baseline": "middle"},
       "encoding": {
         "x": {"field": "col", "type": "quantitative", "scale": {"domain": [1, 2], "range": [-28, 1783], "nice": false, "zero": false}, "axis": null},
         "y": {"field": "slot", "type": "quantitative", "scale": {"domain": [1, 5], "range": [147, 227], "nice": false, "zero": false}, "axis": null},
         "text": {"field": "hi", "type": "quantitative", "format": ".2f"},
         "color": {"field": "no", "type": "nominal", "scale": {"domain": [1,2,3,4,5,6,7,8,9,10], "range": ["#41a5cc","#e23a7f","#141414","#3f9b2a","#f2961c","#5a9edb","#e5397c","#141414","#46a02b","#f2961c"]}, "legend": null}
       }},
      {"mark": {"type": "text", "fontSize": 17, "opacity": 0.85, "align": "right", "baseline": "middle"},
       "encoding": {
         "x": {"field": "col", "type": "quantitative", "scale": {"domain": [1, 2], "range": [-28, 1783], "nice": false, "zero": false}, "axis": null},
         "y": {"field": "slot", "type": "quantitative", "scale": {"domain": [1, 5], "range": [266, 346], "nice": false, "zero": false}, "axis": null},
         "text": {"field": "lo", "type": "quantitative", "format": ".2f"},
         "color": {"field": "no", "type": "nominal", "scale": {"domain": [1,2,3,4,5,6,7,8,9,10], "range": ["#41a5cc","#e23a7f","#141414","#3f9b2a","#f2961c","#5a9edb","#e5397c","#141414","#46a02b","#f2961c"]}, "legend": null}
       }},
      {"mark": {"type": "rect", "x2Offset": 142, "yOffset": -11.5, "y2Offset": 11},
       "encoding": {
         "x": {"field": "col", "type": "quantitative", "scale": {"domain": [1, 2], "range": [-168, 1643], "nice": false, "zero": false}, "axis": null},
         "x2": {"field": "col"},
         "y": {"field": "slot", "type": "quantitative", "scale": {"domain": [1, 5], "range": [379, 475], "nice": false, "zero": false}, "axis": null},
         "y2": {"field": "slot"},
         "color": {"field": "no", "type": "nominal", "scale": {"domain": [1,2,3,4,5,6,7,8,9,10], "range": ["#41a5cc","#e23a7f","#141414","#3f9b2a","#f2961c","#5a9edb","#e5397c","#141414","#46a02b","#f2961c"]}, "legend": null}
       }},
      {"mark": {"type": "text", "fontSize": 18, "fill": "#ffffff", "fillOpacity": 0.8, "align": "right", "baseline": "middle"},
       "encoding": {
         "x": {"field": "col", "type": "quantitative", "scale": {"domain": [1, 2], "range": [-28, 1783], "nice": false, "zero": false}, "axis": null},
         "y": {"field": "slot", "type": "quantitative", "scale": {"domain": [1, 5], "range": [379, 475], "nice": false, "zero": false}, "axis": null},
         "text": {"field": "min", "type": "quantitative", "format": ".2f"}
       }}
    ],
    "resolve": {"scale": {"x": "independent", "y": "independent"}}
  }
],
"resolve": {"scale": {"x": "independent", "y": "independent", "color": "independent"}}
}
